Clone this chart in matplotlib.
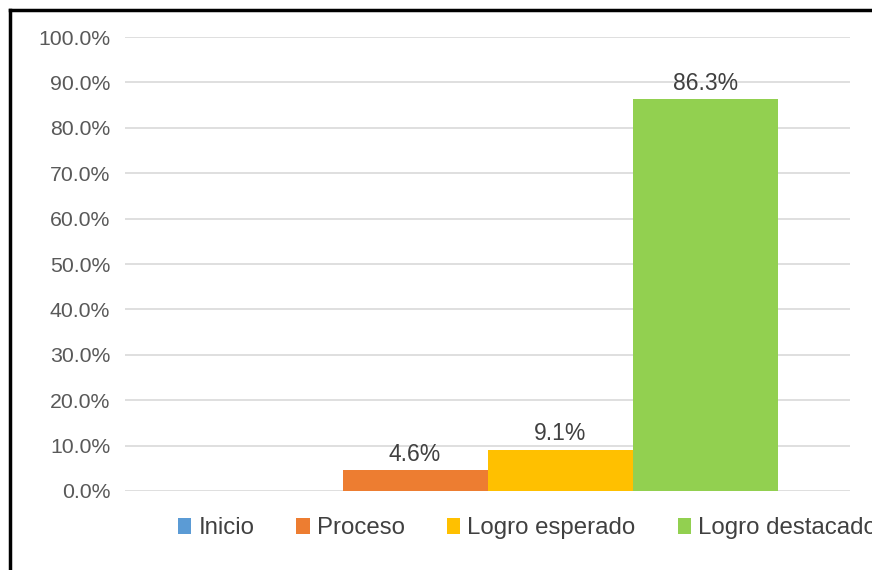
import matplotlib.pyplot as plt
from matplotlib.lines import Line2D
from matplotlib.patches import Patch
from matplotlib.ticker import FuncFormatter

# data
levels = ['Inicio', 'Proceso', 'Logro esperado', 'Logro destacado']
percent = [0.0, 4.6, 9.1, 86.3]
colors = ['#5B9BD5', '#ED7D31', '#FFC000', '#92D050']

plt.rcParams['font.family'] = ['Liberation Sans', 'DejaVu Sans']

fig = plt.figure(figsize=(8.72, 5.70), dpi=100)
ax = fig.add_axes([0.1433, 0.1386, 0.8317, 0.7964])

# one category, four adjacent bars (Excel clustered style)
n = len(levels)
bar_w = 0.8 / n
for i, (lab, val, col) in enumerate(zip(levels, percent, colors)):
    x = (i - (n - 1) / 2) * bar_w
    ax.bar(x, val, width=bar_w, color=col, label=lab, zorder=3)
    if val > 0:
        ax.text(x, val + 1.0, f'{val:.1f}%', ha='center', va='bottom',
                fontsize=16.5, color='#404040')

ax.set_xlim(-0.5, 0.5)
ax.set_ylim(0, 100)
ax.set_yticks(range(0, 101, 10))
ax.yaxis.set_major_formatter(FuncFormatter(lambda v, p: f'{v:.1f}%'))
ax.tick_params(axis='y', length=0, pad=10.5, labelsize=15.3, labelcolor='#595959')
ax.set_xticks([])
ax.grid(axis='y', color='#D9D9D9', linewidth=1.2, zorder=0)
for s in ax.spines.values():
    s.set_visible(False)

handles = [Patch(facecolor=c, edgecolor='none') for c in colors]
fig.legend(handles, levels, loc='center left', bbox_to_anchor=(0.204, 0.073),
           ncol=4, frameon=False, fontsize=17.3, handlelength=0.55,
           handleheight=0.6, handletextpad=0.3, columnspacing=1.75,
           borderaxespad=0, borderpad=0, labelcolor='#404040')

# outer border (only left and top edges visible in the crop)
fig.add_artist(Line2D([0.0115, 0.0115], [0.0, 0.982], transform=fig.transFigure,
                      color='black', linewidth=2.5))
fig.add_artist(Line2D([0.0115, 1.0], [0.982, 0.982], transform=fig.transFigure,
                      color='black', linewidth=2.5))

fig.savefig('out.png', dpi=100)
